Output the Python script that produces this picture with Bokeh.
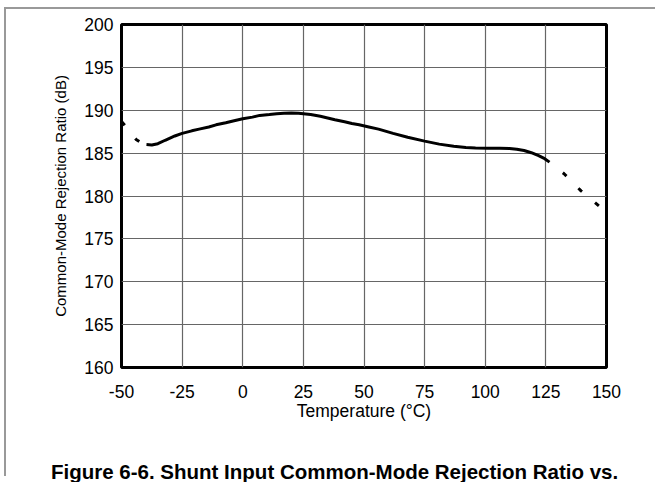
from bokeh.plotting import figure
from bokeh.models import Range1d, FixedTicker, Div
from bokeh.layouts import column
from bokeh.embed import file_html
from bokeh.resources import INLINE

# ---- data ----
x_ticks = [-50, -25, 0, 25, 50, 75, 100, 125, 150]
y_ticks = [160, 165, 170, 175, 180, 185, 190, 195, 200]
x_tick_text = {-50: "-50", -25: "-25"}

left_dash_t = [-50, -47, -44, -42, -39.7]
left_dash_v = [188.7, 187.7, 186.6, 186.25, 186.0]

solid_t = [-39.7, -37.5, -35, -32, -28, -25, -21, -18, -14, -11, -7, -4, 0, 4, 7,
           11, 14, 17, 20, 23, 25, 28, 32, 35, 38, 42, 45, 48, 52, 56, 62, 68, 75,
           81, 87, 92, 96, 101, 106, 110, 113, 116, 119, 122, 124.5, 126.5]
solid_v = [186.0, 185.95, 186.1, 186.5, 187.0, 187.3, 187.6, 187.8, 188.05, 188.3,
           188.55, 188.75, 189.0, 189.2, 189.4, 189.5, 189.6, 189.65, 189.67, 189.65,
           189.6, 189.5, 189.3, 189.1, 188.9, 188.65, 188.45, 188.3, 188.05, 187.8,
           187.3, 186.85, 186.4, 186.05, 185.8, 185.65, 185.6, 185.58, 185.57, 185.55,
           185.45, 185.3, 185.05, 184.7, 184.35, 183.95]

right_dash_t = [126.5, 132.5, 139.5, 147.5]
right_dash_v = [183.95, 182.6, 180.6, 178.7]

x_label = "Temperature (°C)"
y_label = "Common-Mode Rejection Ratio (dB)"
caption = "Figure 6-6. Shunt Input Common-Mode Rejection Ratio vs."

FONT = "Liberation Sans"

p = figure(width=639, height=441, output_backend="svg", toolbar_location=None,
           x_range=Range1d(-50, 150), y_range=Range1d(160, 200),
           min_border_left=115, min_border_right=39, min_border_top=15,
           min_border_bottom=83)

p.outline_line_color = "black"
p.outline_line_width = 3
p.background_fill_color = "white"
p.border_fill_color = "white"

for ax, ticks in ((p.xaxis[0], x_ticks), (p.yaxis[0], y_ticks)):
    ax.ticker = FixedTicker(ticks=ticks)
    ax.axis_line_color = None
    ax.major_tick_line_color = None
    ax.minor_tick_line_color = None
    ax.major_tick_in = 0
    ax.major_tick_out = 0
    ax.major_label_text_font = FONT
    ax.major_label_text_font_size = "17.5px"
    ax.major_label_text_color = "black"
    ax.axis_label_text_font = FONT
    ax.axis_label_text_font_style = "normal"
    ax.axis_label_text_color = "black"

p.xaxis.major_label_overrides = x_tick_text
p.xaxis.major_label_standoff = 17
p.xaxis.axis_label = x_label
p.xaxis.axis_label_text_font_size = "17.5px"
p.xaxis.axis_label_standoff = 0
p.yaxis.major_label_standoff = 8
p.yaxis.axis_label = y_label
p.yaxis.axis_label_text_font_size = "15px"
p.yaxis.axis_label_standoff = 12

p.xgrid.ticker = FixedTicker(ticks=x_ticks)
p.ygrid.ticker = FixedTicker(ticks=y_ticks)
for g in (p.xgrid[0], p.ygrid[0]):
    g.grid_line_color = "#666666"
    g.grid_line_width = 1.2
    g.grid_line_alpha = 1

p.line(left_dash_t, left_dash_v, line_color="black", line_width=3, line_dash="5 17")
p.line(solid_t, solid_v, line_color="black", line_width=3)
p.line(right_dash_t, right_dash_v, line_color="black", line_width=3,
       line_dash="5 17", line_dash_offset=5)

cap = Div(text=caption, width=639, height=16,
          styles={"font-family": FONT, "font-weight": "bold", "font-size": "20.5px",
                  "line-height": "34px", "white-space": "nowrap",
                  "text-indent": "40px", "color": "black", "overflow": "visible"})

layout = column(p, cap, spacing=0,
                styles={"margin-left": "4px", "margin-top": "7px",
                        "border-left": "2px solid #999999",
                        "border-top": "2px solid #999999"})

open("out.html", "w").write(file_html(layout, INLINE))
